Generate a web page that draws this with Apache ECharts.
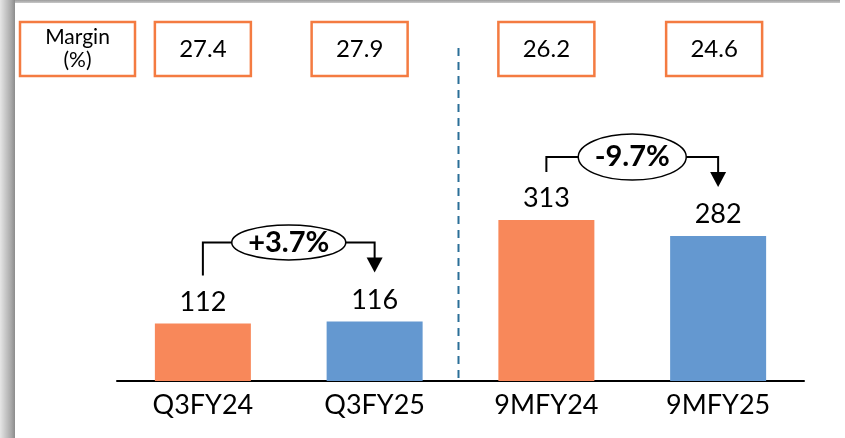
<!DOCTYPE html>
<html>
<head>
<meta charset="utf-8">
<style>
  html, body { margin: 0; padding: 0; background: #ffffff; }
  #chart { width: 845px; height: 438px; }
</style>
<script src="https://cdn.jsdelivr.net/npm/echarts@6/dist/echarts.min.js"></script>
</head>
<body>
<div id="chart"></div>
<script>
// Period labels and values
const categories = ['Q3FY24', 'Q3FY25', '9MFY24', '9MFY25'];
const values = [112, 116, 313, 282];
const margins = ['27.4', '27.9', '26.2', '24.6'];
const marginTitle = 'Margin\n(%)';
// Growth callouts: [from index, to index, text]
const changes = [[0, 1, '+3.7%'], [2, 3, '-9.7%']];

const ORANGE = '#F8885A';
const BLUE = '#6498D0';
const BOX = '#F47B41';
const FONT = 'Lato, "Noto Sans", sans-serif';

// horizontal nudges for the margin boxes relative to each bar centre
const boxShift = [0, -15, 0, -4];

const chart = echarts.init(document.getElementById('chart'), null, { renderer: 'canvas' });

chart.setOption({
  animation: false,
  backgroundColor: '#ffffff',
  grid: { left: 117, right: 41, top: 124, bottom: 57 },
  xAxis: {
    type: 'category',
    data: categories,
    axisLine: { lineStyle: { color: '#000000', width: 2 } },
    axisTick: { show: false },
    axisLabel: { color: '#000000', fontFamily: FONT, fontSize: 27, margin: 11 }
  },
  yAxis: {
    type: 'value',
    min: 0,
    max: 500,
    show: false,
    splitLine: { show: false }
  },
  series: [{
    type: 'bar',
    barWidth: 96,
    data: values.map((v, i) => ({
      value: v,
      itemStyle: { color: i % 2 === 0 ? ORANGE : BLUE }
    })),
    label: {
      show: true,
      position: 'top',
      distance: 8,
      color: '#000000',
      fontFamily: FONT,
      fontSize: 27
    }
  }]
});

function px(i, v) { return chart.convertToPixel({ seriesIndex: 0 }, [i, v]); }

const graphics = [];

// frame shadow along the left and top edges
graphics.push({
  type: 'rect', silent: true,
  shape: { x: 0, y: 0, width: 15, height: 438 },
  style: { fill: new echarts.graphic.LinearGradient(0, 0, 1, 0, [
    { offset: 0, color: '#e6e6e6' }, { offset: 0.75, color: '#a8a8a8' }, { offset: 1, color: '#8c8c8c' }
  ]) }
});
graphics.push({
  type: 'rect', silent: true,
  shape: { x: 15, y: 0, width: 825, height: 3 },
  style: { fill: new echarts.graphic.LinearGradient(0, 0, 0, 1, [
    { offset: 0, color: '#9c9c9c' }, { offset: 1, color: '#c8c8c8' }
  ]) }
});

// margin boxes
const boxTop = 22, boxH = 54, boxW = 96;
graphics.push({
  type: 'rect', silent: true,
  shape: { x: 20, y: boxTop, width: 115, height: boxH },
  style: { fill: '#ffffff', stroke: BOX, lineWidth: 2.5 }
});
graphics.push({
  type: 'text', silent: true,
  x: 77.5, y: boxTop + boxH / 2,
  style: { text: marginTitle, fontFamily: FONT, fontSize: 21, lineHeight: 23,
           fill: '#000000', align: 'center', verticalAlign: 'middle' }
});
margins.forEach((m, i) => {
  const cx = px(i, 0)[0] + boxShift[i];
  graphics.push({
    type: 'rect', silent: true,
    shape: { x: cx - boxW / 2, y: boxTop, width: boxW, height: boxH },
    style: { fill: '#ffffff', stroke: BOX, lineWidth: 2.5 }
  });
  graphics.push({
    type: 'text', silent: true,
    x: cx, y: boxTop + boxH / 2,
    style: { text: m, fontFamily: FONT, fontSize: 24, fill: '#000000',
             align: 'center', verticalAlign: 'middle' }
  });
});

// dashed divider between quarter and nine-month groups
const base = px(0, 0)[1];
const divX = (px(1, 0)[0] + px(2, 0)[0]) / 2 - 2;
graphics.push({
  type: 'line', silent: true,
  shape: { x1: divX, y1: 48, x2: divX, y2: base - 1 },
  style: { stroke: '#2B6F98', lineWidth: 2, lineDash: [8, 6] }
});

// growth callouts
changes.forEach(([a, b, txt], k) => {
  const pa = px(a, values[a]);
  const pb = px(b, values[b]);
  const startY = pa[1] - 48;
  const tipY = pb[1] - 49;
  const levelY = tipY - 30;
  const midX = (pa[0] + pb[0]) / 2;
  const rx = k === 0 ? 57 : 54;
  const ry = k === 0 ? 17.5 : 23;
  graphics.push({
    type: 'polyline', silent: true,
    shape: { points: [[pa[0], startY], [pa[0], levelY], [midX - rx, levelY]] },
    style: { stroke: '#000000', lineWidth: 2, fill: null }
  });
  graphics.push({
    type: 'polyline', silent: true,
    shape: { points: [[midX + rx, levelY], [pb[0], levelY], [pb[0], tipY - 14]] },
    style: { stroke: '#000000', lineWidth: 2, fill: null }
  });
  graphics.push({
    type: 'polygon', silent: true,
    shape: { points: [[pb[0] - 8, tipY - 15], [pb[0] + 8, tipY - 15], [pb[0], tipY]] },
    style: { fill: '#000000' }
  });
  graphics.push({
    type: 'ellipse', silent: true,
    shape: { cx: midX, cy: levelY, rx: rx, ry: ry },
    style: { fill: '#ffffff', stroke: '#000000', lineWidth: 1.5 }
  });
  graphics.push({
    type: 'text', silent: true,
    x: midX, y: levelY,
    style: { text: txt, fontFamily: FONT, fontSize: 29, fontWeight: 'bold',
             fill: '#000000', align: 'center', verticalAlign: 'middle' }
  });
});

chart.setOption({ graphic: graphics });
</script>
</body>
</html>
